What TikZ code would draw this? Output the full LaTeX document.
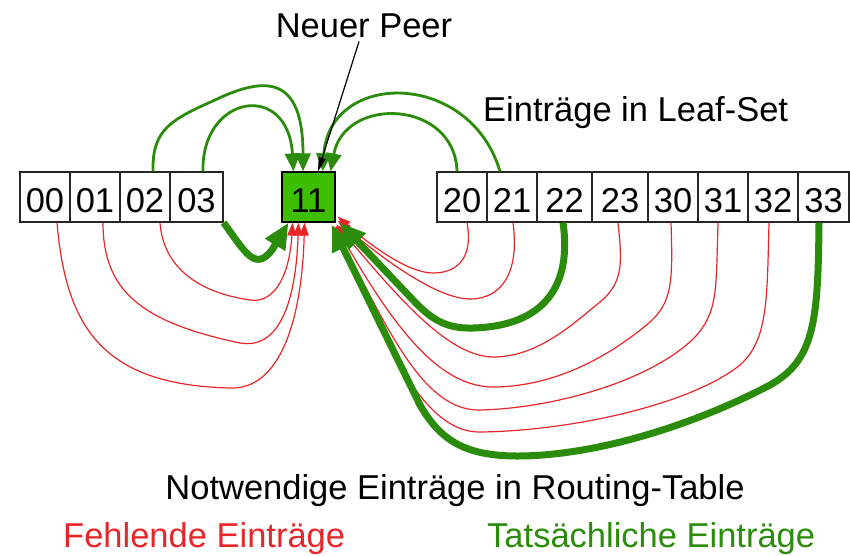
\documentclass[tikz,border=0pt]{standalone}
\usepackage{fontspec}
\setmainfont{Liberation Sans}
\usetikzlibrary{arrows.meta}
\definecolor{peergreen}{HTML}{3DBE00}
\definecolor{linkgreen}{HTML}{2A8C0A}
\definecolor{missred}{HTML}{E8262A}
\newcommand\labelfont{\fontsize{34.5}{40}\selectfont}
\begin{document}
\begin{tikzpicture}[x=1pt,y=-1pt,
  idbox/.style={draw=black!85, line width=1.2pt, minimum width=50pt, minimum height=50pt,
    inner sep=0pt, text height=30.7pt, text depth=0pt, font=\labelfont},
  caption/.style={font=\labelfont, inner sep=0pt},
  missing/.style={draw=missred, line width=1.2pt, -{Triangle[length=13pt,width=9pt]}},
  leaf/.style={draw=linkgreen, line width=2.8pt, -{Triangle[length=18pt,width=15pt]}},
  route/.style={draw=linkgreen, line width=7pt, -{Triangle[length=26pt,width=22pt]}},
  pointer/.style={draw=black, line width=1.2pt, -{Triangle[length=14pt,width=7pt]}}]
\useasboundingbox (0,0) rectangle (850,555);

% identifier boxes
\node[idbox] (b00) at (45,197) {00};
\node[idbox] (b01) at (95,197) {01};
\node[idbox] (b02) at (145,197) {02};
\node[idbox, minimum width=53pt] (b03) at (196.5,197) {03};
\node[idbox, minimum width=53pt, fill=peergreen, draw=black] (p11) at (308.5,197) {11};
\node[idbox] (b20) at (462,197) {20};
\node[idbox] (b21) at (512,197) {21};
\node[idbox, minimum width=55pt] (b22) at (564.5,197) {22};
\node[idbox, minimum width=56pt] (b23) at (620,197) {23};
\node[idbox] (b30) at (673,197) {30};
\node[idbox] (b31) at (723,197) {31};
\node[idbox] (b32) at (773,197) {32};
\node[idbox, minimum width=51pt] (b33) at (823.5,197) {33};

% captions
\node[caption, anchor=base] (neuer) at (364,37) {Neuer Peer};
\node[caption, anchor=base west] (leafset) at (483,121) {Einträge in Leaf-Set};
\node[caption, anchor=base] (routing) at (455,499) {Notwendige Einträge in Routing-Table};
\node[caption, anchor=base west, text=missred] (legmiss) at (63,547) {Fehlende Einträge};
\node[caption, anchor=base west, text=linkgreen] (legreal) at (487,547) {Tatsächliche Einträge};

% leaf set entries (above)
\draw[leaf] ([xshift=8pt]b02.north) .. controls (152,130) and (170,120) .. (215,100)
  .. controls (265,76) and (303,75) .. ([xshift=-5.5pt]p11.north);
\draw[leaf] ([xshift=6.5pt]b03.north) .. controls (201,95) and (288,80) .. ([xshift=-15pt]p11.north);
\draw[leaf] ([xshift=-12pt]b21.north) .. controls (470,70) and (330,70) .. ([xshift=14pt]p11.north);
\draw[leaf] ([xshift=-5pt]b20.north) .. controls (455,100) and (345,95) .. ([xshift=22pt]p11.north);

\draw[pointer] ([xshift=-5pt,yshift=-4pt]neuer.south) -- ([xshift=9.5pt]p11.north);

% missing routing table entries
\draw[missing] ([xshift=12pt]b00.south) .. controls (66,330) and (105,385) .. (230,388)
  .. controls (280,390) and (302,320) .. ([xshift=-4pt]p11.south);
\draw[missing] ([xshift=8pt]b01.south) .. controls (103,290) and (140,322) .. (240,343)
  .. controls (280,350) and (296,300) .. ([xshift=-10pt]p11.south);
\draw[missing] ([xshift=15pt]b02.south) .. controls (163,265) and (195,292) .. (250,300)
  .. controls (277,304) and (290,270) .. ([xshift=-16pt]p11.south);

\draw[missing] ([xshift=5pt]b20.south) .. controls (473,255) and (460,273) .. (433,273)
  .. controls (408,273) and (370,245) .. ([xshift=2pt,yshift=6pt]p11.south east);
\draw[missing] ([xshift=1pt]b21.south) .. controls (520,275) and (500,299) .. (470,299)
  .. controls (440,299) and (390,265) .. ([xshift=2pt,yshift=2pt]p11.south east);
\draw[missing] ([xshift=-2pt]b23.south) .. controls (622,262) and (624,282) .. (600,302)
  .. controls (575,322) and (540,356) .. (495,357)
  .. controls (450,358) and (400,300) .. ([xshift=1pt,yshift=-2pt]p11.south east);
\draw[missing] ([xshift=-2pt]b30.south) .. controls (673,282) and (672,302) .. (650,322)
  .. controls (615,352) and (560,386) .. (495,387)
  .. controls (440,388) and (395,330) .. ([yshift=-3pt]p11.south east);
\draw[missing] ([xshift=-5pt]b31.south) .. controls (716,290) and (718,312) .. (695,337)
  .. controls (655,378) and (560,408) .. (480,410)
  .. controls (425,411) and (390,335) .. ([xshift=-1pt,yshift=-4pt]p11.south east);
\draw[missing] ([xshift=-4pt]b32.south) .. controls (767,300) and (768,340) .. (740,365)
  .. controls (690,405) and (570,431) .. (480,432)
  .. controls (420,433) and (380,330) .. ([xshift=-2pt,yshift=-5pt]p11.south east);

% actual routing table entries
\draw[route] (b03.south east) .. controls (245,252) and (255,272) .. (272,250)
  -- ([xshift=-20pt]p11.south);
\draw[route] ([xshift=-1.5pt]b22.south) .. controls (572,285) and (545,326) .. (473,328)
  .. controls (445,329) and (430,318) .. (413,300) -- ([xshift=4pt]p11.south east);
\draw[route] ([xshift=-4.5pt]b33.south) .. controls (818,320) and (815,360) .. (770,385)
  .. controls (700,422) and (600,456) .. (517,456)
  .. controls (465,456) and (440,440) .. (420,405) -- ([xshift=-4pt,yshift=-2pt]p11.south east);
\end{tikzpicture}
\end{document}
